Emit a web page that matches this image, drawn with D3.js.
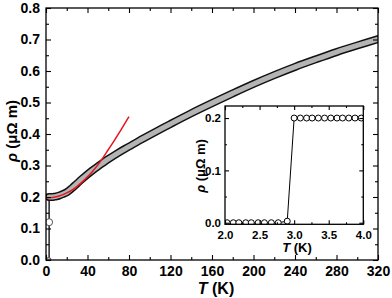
<!DOCTYPE html>
<html><head><meta charset="utf-8">
<script src="https://cdn.jsdelivr.net/npm/d3@7"></script>
<style>
html,body{margin:0;padding:0;background:#fff;}
svg{display:block;font-family:"Liberation Sans",Arial,sans-serif;font-weight:bold;}
svg text{font-weight:bold;font-family:"Liberation Sans",Arial,sans-serif;}
</style></head>
<body>
<svg id="c" width="392" height="298"></svg>
<script>
// ---- data ----
const mainT   = [3, 5, 8, 10, 13, 16, 20, 25, 30, 35, 40, 45, 50, 60, 70, 80, 90, 100, 120, 140, 160, 180, 200, 220, 240, 260, 280, 300, 320];
const mainRho = [0.200, 0.200, 0.201, 0.202, 0.205, 0.209, 0.215, 0.228, 0.243, 0.258, 0.272, 0.285, 0.297, 0.320, 0.341, 0.360, 0.379, 0.397, 0.432, 0.466, 0.498, 0.529, 0.559, 0.587, 0.613, 0.637, 0.660, 0.681, 0.701];
const fitT    = [0, 5, 10, 15, 20, 25, 30, 35, 40, 45, 50, 55, 60, 65, 70, 75, 80];
const fitRho  = [0.197, 0.198, 0.201, 0.206, 0.213, 0.222, 0.234, 0.248, 0.264, 0.282, 0.302, 0.325, 0.350, 0.375, 0.401, 0.428, 0.455];
const dropT   = [3, 3];
const dropRho = [0.0, 0.2];
const markT   = [2.5, 3];
const markRho = [0.0, 0.12];
const insetT   = [2.03, 2.12, 2.20, 2.30, 2.38, 2.48, 2.57, 2.67, 2.77, 2.90, 3.00, 3.09, 3.18, 3.26, 3.35, 3.44, 3.53, 3.62, 3.70, 3.79, 3.88, 3.97, 4.06];
const insetRho = [0, 0, 0, 0, 0, 0, 0, 0, 0, 0.003, 0.2, 0.2, 0.2, 0.2, 0.2, 0.2, 0.2, 0.2, 0.2, 0.2, 0.2, 0.2, 0.2];
const xTicks = [0, 40, 80, 120, 160, 200, 240, 280, 320];
const xMinor = [20, 60, 100, 140, 180, 220, 260, 300];
const yTicks = [0.0, 0.1, 0.2, 0.3, 0.4, 0.5, 0.6, 0.7, 0.8];
const yMinor = [0.05, 0.15, 0.25, 0.35, 0.45, 0.55, 0.65, 0.75];
const ixTicks = [2.0, 2.5, 3.0, 3.5, 4.0];
const ixMinor = [2.25, 2.75, 3.25, 3.75];
const iyTicks = [0.0, 0.1, 0.2];
const iyMinor = [0.05, 0.15];

const svg = d3.select("#c");
const M = {l:46, r:378, t:8, b:260};
const x = d3.scaleLinear().domain([0,320]).range([M.l, M.r]);
const y = d3.scaleLinear().domain([0,0.8]).range([M.b, M.t]);

function frameAxes(g, xs, ys, box, maj, mnr, xt, xm, yt, ym, fs, xpad, ypad, xfmt, yfmt){
  const mk = (axis, vals, size, fmt, pad, tr) => {
    const a = g.append("g").attr("transform", tr)
      .call(axis.tickValues(vals).tickSize(-size).tickPadding(pad).tickFormat(fmt));
    a.attr("font-family", null).attr("font-size", null);
    a.select(".domain").remove();
    a.selectAll("line").attr("stroke","#000").attr("stroke-width",1.1);
    a.selectAll("text").style("font-size",fs).style("font-weight","bold").attr("fill","#000");
    return a;
  };
  const none = () => "";
  mk(d3.axisBottom(xs), xt, maj, xfmt, xpad, `translate(0,${box.b})`);
  mk(d3.axisBottom(xs), xm, mnr, none, 0, `translate(0,${box.b})`);
  mk(d3.axisTop(xs), xt, maj, none, 0, `translate(0,${box.t})`);
  mk(d3.axisTop(xs), xm, mnr, none, 0, `translate(0,${box.t})`);
  mk(d3.axisLeft(ys), yt, maj, yfmt, ypad, `translate(${box.l},0)`);
  mk(d3.axisLeft(ys), ym, mnr, none, 0, `translate(${box.l},0)`);
  mk(d3.axisRight(ys), yt, maj, none, 0, `translate(${box.r},0)`);
  mk(d3.axisRight(ys), ym, mnr, none, 0, `translate(${box.r},0)`);
  g.append("rect").attr("x",box.l).attr("y",box.t).attr("width",box.r-box.l).attr("height",box.b-box.t)
    .attr("fill","none").attr("stroke","#000").attr("stroke-width",1.3);
}

// main data
svg.append("clipPath").attr("id","cm").append("rect")
  .attr("x",M.l).attr("y",M.t).attr("width",M.r-M.l).attr("height",M.b-M.t);
const gm = svg.append("g").attr("clip-path","url(#cm)");
const line = d3.line().curve(d3.curveCatmullRom);
const mainPts = mainT.map((t,i)=>[x(t), y(mainRho[i])]);
gm.append("path").attr("d", d3.line()(dropT.map((t,i)=>[x(t), y(dropRho[i])])))
  .attr("stroke","#000").attr("stroke-width",1.3).attr("fill","none");
gm.append("path").attr("d", line(mainPts)).attr("fill","none").attr("stroke","#111").attr("stroke-width",8).attr("stroke-linecap","round");
gm.append("path").attr("d", line(mainPts)).attr("fill","none").attr("stroke","#b4b4b4").attr("stroke-width",5).attr("stroke-linecap","round");
gm.append("path").attr("d", line(fitT.map((t,i)=>[x(t), y(fitRho[i])])))
  .attr("fill","none").attr("stroke","#e8141c").attr("stroke-width",1.5);
gm.selectAll(".mk").data(markT).enter().append("circle")
  .attr("cx",(d)=>x(d)).attr("cy",(d,i)=>y(markRho[i])).attr("r",(d,i)=>i===0?2.5:3.5)
  .attr("fill",(d,i)=>i===0?"#bbb":"#fff").attr("stroke","#555").attr("stroke-width",1);

frameAxes(svg.append("g"), x, y, M, 5, 3, xTicks, xMinor, yTicks, yMinor, "14px", 6, 6, d3.format("d"), d3.format(".1f"));

// axis titles
svg.append("text").attr("x",216).attr("y",294).attr("text-anchor","middle").style("font-size","16px")
  .html('<tspan font-style="italic">T</tspan> (K)');
svg.append("text").attr("transform","translate(17,131) rotate(-90)").attr("text-anchor","middle").style("font-size","15px")
  .html('<tspan font-style="italic">ρ</tspan> (μΩ m)');

// inset
const I = {l:225, r:363.3, t:106, b:224.3};
const xi = d3.scaleLinear().domain([2,4]).range([I.l, I.r]);
const yi = d3.scaleLinear().domain([-0.003,0.223]).range([I.b, I.t]);
svg.append("rect").attr("x",I.l).attr("y",I.t).attr("width",I.r-I.l).attr("height",I.b-I.t).attr("fill","#fff");
svg.append("clipPath").attr("id","ci").append("rect").attr("x",I.l).attr("y",I.t).attr("width",I.r-I.l).attr("height",I.b-I.t);
const gi = svg.append("g").attr("clip-path","url(#ci)");
gi.append("path").attr("d", d3.line()(insetT.map((t,i)=>[xi(t), yi(insetRho[i])])))
  .attr("fill","none").attr("stroke","#000").attr("stroke-width",1);
gi.selectAll("circle").data(insetT).enter().append("circle")
  .attr("cx",d=>xi(d)).attr("cy",(d,i)=>yi(insetRho[i])).attr("r",3)
  .attr("fill","#fff").attr("stroke","#000").attr("stroke-width",1);
frameAxes(svg.append("g"), xi, yi, I, 4, 2, ixTicks, ixMinor, iyTicks, iyMinor, "11.5px", 7, 4, d3.format(".1f"), d3.format(".1f"));
svg.append("text").attr("x",297).attr("y",252).attr("text-anchor","middle").style("font-size","13px")
  .html('<tspan font-style="italic">T</tspan> (K)');
svg.append("text").attr("transform","translate(205,166) rotate(-90)").attr("text-anchor","middle").style("font-size","13px")
  .html('<tspan font-style="italic">ρ</tspan> (μΩ m)');
</script>
</body></html>
